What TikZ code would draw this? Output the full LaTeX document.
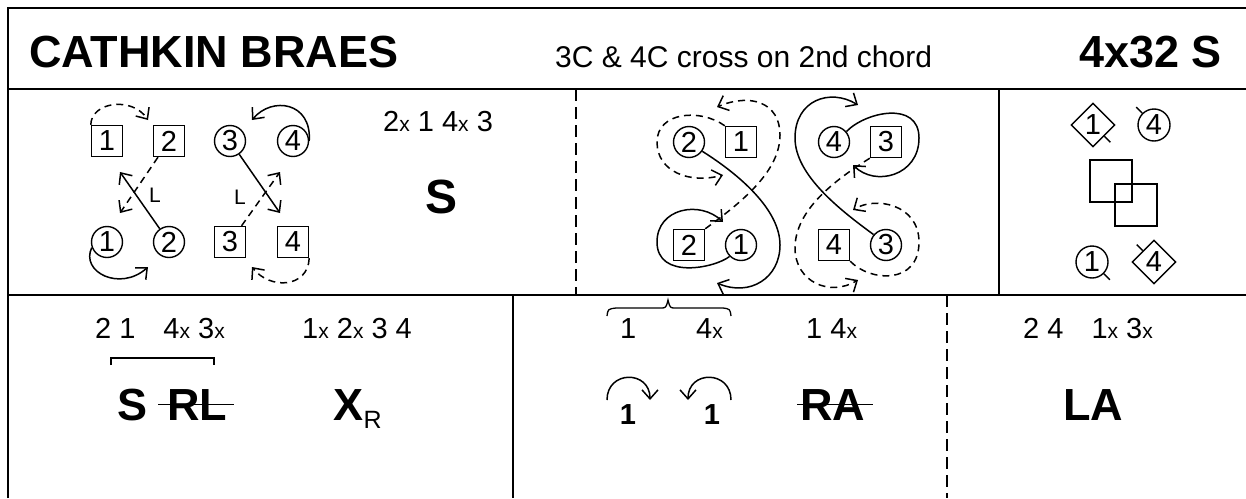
\documentclass[tikz,border=0pt]{standalone}
\usepackage{fontspec}
\setmainfont{Liberation Sans}
\usetikzlibrary{arrows.meta,shapes.geometric}
\newcommand{\fsz}[1]{\fontsize{#1}{#1}\selectfont}
\newcommand{\sx}{{\fsz{21}x}}
\tikzset{
  frame/.style={line width=1.8pt},
  dframe/.style={line width=1.8pt, dash pattern=on 12pt off 6pt},
  dancer/.style={draw, line width=1.4pt, inner sep=0pt, font=\fsz{29}},
  man/.style={dancer, rectangle, minimum size=31pt},
  lady/.style={dancer, circle, minimum size=31pt},
  rdiam/.style={dancer, diamond, minimum size=44pt},
  tick/.style={line width=1.4pt},
  trk/.style={line width=1.5pt, -{Straight Barb[length=9pt,width=16pt,line width=1.5pt]}},
  dtrk/.style={trk, dash pattern=on 7pt off 5pt},
  txt/.style={inner sep=0pt, anchor=base west, font=\fsz{29}},
  big/.style={inner sep=0pt, anchor=base west, font=\bfseries\fsz{45}},
}
\begin{document}
\begin{tikzpicture}[x=1pt,y=-1pt]
\useasboundingbox (0,0) rectangle (1246,498);
% frame
\draw[frame] (8,498) -- (8,8) -- (1246,8);
\draw[frame] (8,89) -- (1246,89);
\draw[frame] (8,295) -- (1246,295);
\draw[frame] (999,89) -- (999,295);
\draw[frame] (513,295) -- (513,498);
\draw[dframe] (576,89) -- (576,295);
\draw[dframe] (947,295) -- (947,498);
% title row
\node[big] (title) at (29,67) {CATHKIN BRAES};
\node[txt, font=\fsz{30}] (sub) at (555,67) {3C \& 4C cross on 2nd chord};
\node[big, anchor=base east] (form) at (1222,67) {4x32 S};
% row 1 left panel
\node[man] (a1) at (107,141) {1};
\node[man] (a2) at (169,141) {2};
\node[lady] (a3) at (230,141) {3};
\node[lady] (a4) at (293,141) {4};
\node[lady] (b1) at (107,242) {1};
\node[lady] (b2) at (169,242) {2};
\node[man] (b3) at (230,242) {3};
\node[man] (b4) at (293,242) {4};
\coordinate (ta) at (148,120);
\coordinate (tb) at (120,213);
\coordinate (tc) at (120,172);
\coordinate (td) at (148,267);
\coordinate (te) at (252,120);
\coordinate (tf) at (280,213);
\coordinate (tg) at (280,172);
\coordinate (th) at (252,267);
\draw[dtrk] (a1.north west) .. controls (91,102) and (132,96) .. (ta);
\draw[dtrk] (a2) -- (tb);
\draw[trk] (b2) -- (tc);
\draw[trk] (b1.200) .. controls (80,272) and (120,292) .. (td);
\draw[trk] (a4.east) .. controls (312,102) and (272,96) .. (te);
\draw[trk] (a3) -- (tf);
\draw[dtrk] (b3) -- (tg);
\draw[dtrk] (b4.south east) .. controls (308,288) and (270,290) .. (th);
\node[inner sep=0pt, font=\fsz{21}] (l1) at (155,195) {L};
\node[inner sep=0pt, font=\fsz{21}] (l2) at (240,197) {L};
\node[txt] (n1) at (383,131) {2\sx{} 1 4\sx{} 3};
\node[inner sep=0pt, font=\bfseries\fsz{48}] (s1) at (442,197) {S};
% row 1 middle panel
\node[lady] (m2) at (689,142) {2};
\node[man] (m1) at (741,142) {1};
\node[lady] (m4) at (834,142) {4};
\node[man] (m3) at (886,142) {3};
\node[man] (p2) at (689,245) {2};
\node[lady] (p1) at (741,245) {1};
\node[man] (p4) at (834,245) {4};
\node[lady] (p3) at (886,245) {3};
\coordinate (u1) at (723,175);
\coordinate (u2) at (717,107);
\coordinate (u3) at (717,283);
\coordinate (u4) at (723,222);
\coordinate (u5) at (853,165);
\coordinate (u6) at (858,105);
\coordinate (u7) at (858,280);
\coordinate (u8) at (853,210);
\draw[dtrk] (m1.north west) .. controls (700,108) and (657,112) .. (657,142)
  .. controls (657,172) and (690,184) .. (u1);
\draw[dtrk] (p2.north east) .. controls (745,200) and (780,170) .. (780,135)
  .. controls (780,102) and (750,93) .. (u2);
\draw[trk] (m2.-35) .. controls (740,175) and (780,210) .. (780,245)
  .. controls (780,278) and (750,297) .. (u3);
\draw[trk] (p1.225) .. controls (715,268) and (657,280) .. (657,242)
  .. controls (657,208) and (700,200) .. (u4);
\draw[trk] (m4.40) .. controls (865,112) and (919,100) .. (919,138)
  .. controls (919,176) and (875,187) .. (u5);
\draw[trk] (p3.140) .. controls (840,210) and (795,175) .. (795,138)
  .. controls (795,100) and (830,88) .. (u6);
\draw[dtrk] (m3.south west) .. controls (835,180) and (795,210) .. (795,248)
  .. controls (795,282) and (830,297) .. (u7);
\draw[dtrk] (p4.south east) .. controls (870,282) and (919,285) .. (919,242)
  .. controls (919,204) and (875,196) .. (u8);
% row 1 right panel
\node[rdiam] (r1) at (1093,125) {1};
\node[lady, minimum size=32pt] (r4) at (1154,125) {4};
\node[draw, line width=1.4pt, minimum size=42pt, inner sep=0pt] (q1) at (1111,181) {};
\node[draw, line width=1.4pt, minimum size=42pt, inner sep=0pt] (q2) at (1136,205) {};
\node[lady, minimum size=32pt] (s1b) at (1092,262) {1};
\node[rdiam] (s4) at (1154,262) {4};
\draw[tick] (r1.-45) -- ++(6,6);
\draw[tick] (r4.135) -- ++(-6,-6);
\draw[tick] (s1b.-45) -- ++(6,6);
\draw[tick] (s4.135) -- ++(-6,-6);
% row 2
\node[txt] (c1) at (95,338) {2 1\hspace{28pt}4\sx{} 3\sx};
\node[txt] (c2) at (302,338) {1\sx{} 2\sx{} 3 4};
\draw[line width=1.3pt] (111,365) -- (111,358) -- (214,358) -- (214,365);
\node[big] (sS) at (117,420) {S};
\node[big] (sRL) at (167,420) {RL};
\draw[line width=1.8pt] ([xshift=-9pt]sRL.west) -- ([xshift=7pt]sRL.east);
\node[big] (sX) at (333,420) {X};
\node[inner sep=0pt, anchor=base west, font=\fsz{25}] (sR) at (sX.base east) [yshift=-8pt] {R};
\node[txt] (c3) at (620,338) {1};
\node[txt] (c4) at (696,338) {4\sx};
\draw[line width=1.3pt] (607,316) .. controls (608,309) .. (616,308) -- (660,308)
  .. controls (666,308) .. (668,300) .. controls (670,308) .. (676,308) -- (723,308)
  .. controls (730,309) .. (731,316);
\node[txt] (c5) at (806,338) {1 4\sx};
\node[inner sep=0pt, anchor=base, font=\bfseries\fsz{29}] (o1) at (628,424) {1};
\node[inner sep=0pt, anchor=base, font=\bfseries\fsz{29}] (o2) at (712,424) {1};
\coordinate (v1a) at (607,400);
\coordinate (v1b) at (650,400);
\coordinate (v2a) at (731,400);
\coordinate (v2b) at (688,400);
\draw[trk] (v1a) .. controls (607,370) and (650,370) .. (v1b);
\draw[trk] (v2a) .. controls (731,370) and (688,370) .. (v2b);
\node[big] (sRA) at (800,420) {RA};
\draw[line width=1.8pt] ([xshift=-3pt]sRA.west) -- ([xshift=8pt]sRA.east);
\node[txt] (c6) at (1023,338) {2 4\hspace{28pt}1\sx{} 3\sx};
\node[big] (sLA) at (1063,420) {LA};
\end{tikzpicture}
\end{document}
